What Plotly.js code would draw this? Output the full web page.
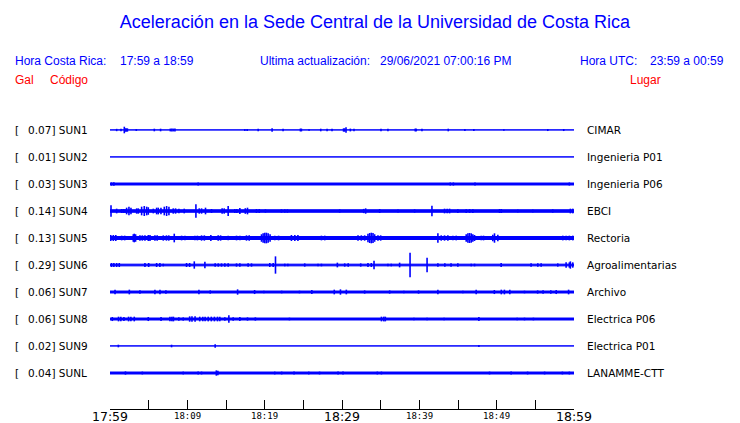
<!DOCTYPE html>
<html>
<head>
<meta charset="utf-8">
<script src="https://cdn.plot.ly/plotly-3.0.1.min.js"></script>
<style>html,body{margin:0;padding:0;background:#fff;}#chart{width:740px;height:423px;}</style>
</head>
<body>
<div id="chart"></div>
<script>
// ---- data ----
var stations = ['SUN1','SUN2','SUN3','SUN4','SUN5','SUN6','SUN7','SUN8','SUN9','SUNL'];
var peakGal = ['0.07','0.01','0.03','0.14','0.13','0.29','0.06','0.06','0.02','0.04'];
var places = ['CIMAR','Ingenieria P01','Ingenieria P06','EBCI','Rectoria','Agroalimentarias','Archivo','Electrica P06','Electrica P01','LANAMME-CTT'];
// background noise half-amplitude (Gal)
var noiseGal = [0.002,0.002,0.021,0.027,0.032,0.018,0.021,0.021,0.002,0.021];

// minutes after 17:59 and half-amplitude (Gal) of visible bursts / spikes
var sun1T = [0.86,1.42,1.85,1.95,2.1,2.25,3.4,5.73,6.54,7.8,8.0,8.2,8.4,17.43,17.74,19.16,20.96,22.38,24.62,24.75,25.74,27.25,28.07,28.71,30.2,30.35,30.52,31.08,31.55,35.04,35.94,39.47,39.6,40.34,43.74,45.89,47.05,50.93,56.61,58.67];
var sun1A = [0.025,0.025,0.07,0.036,0.036,0.036,0.02,0.028,0.028,0.03,0.03,0.03,0.03,0.02,0.02,0.025,0.036,0.025,0.03,0.03,0.015,0.028,0.025,0.025,0.036,0.036,0.06,0.03,0.025,0.025,0.025,0.03,0.03,0.025,0.028,0.022,0.022,0.015,0.022,0.022];
var sun2T = [];
var sun2A = [];
var sun3T = [0.2,0.5,11.4,44.0,44.4,47.2,59.4];
var sun3A = [0.035,0.035,0.033,0.033,0.033,0.033,0.033];
var sun4T = [0.13,0.86,1.5,1.72,1.94,2.15,2.45,2.71,3.45,3.66,4.09,4.43,4.74,4.95,5.6,6.03,6.24,6.59,7.02,7.32,7.62,8.18,8.48,8.91,9.6,11.11,11.54,11.84,12.35,13.13,14.5,14.77,15.28,16.14,16.4,16.79,17.5,17.78,18.94,19.3,20.1,22.17,22.6,22.94,29.7,32.8,33.06,34.87,37.24,39.39,41.63,43.26,43.6,43.91,44.98,46.06,46.5,46.92,50.37,50.6,52.73,54.67,57.25,59.53,59.84];
var sun4A = [0.12,0.05,0.043,0.043,0.043,0.071,0.092,0.071,0.057,0.057,0.092,0.106,0.092,0.08,0.05,0.071,0.071,0.071,0.092,0.106,0.092,0.057,0.057,0.05,0.05,0.142,0.057,0.057,0.071,0.043,0.057,0.057,0.106,0.043,0.043,0.064,0.06,0.071,0.043,0.043,0.035,0.035,0.035,0.035,0.035,0.045,0.057,0.043,0.03,0.035,0.113,0.05,0.05,0.05,0.04,0.04,0.04,0.04,0.043,0.043,0.03,0.03,0.035,0.05,0.05];
var sun5T = [0.1,0.43,0.75,1.51,1.9,3.01,3.14,3.31,3.87,4.18,4.52,4.95,5.17,5.81,6.1,6.89,7.3,7.6,8.31,9.26,9.69,10.98,11.3,11.84,12.2,13.04,13.99,14.3,15.28,16.36,16.8,17.65,18.0,19.59,19.8,20.02,20.23,20.45,20.7,21.31,21.8,23.46,23.9,24.3,25.4,27.34,27.77,29.49,29.9,30.3,32.07,32.5,32.93,33.36,33.58,33.79,34.01,34.22,34.65,35.0,36.16,36.6,37.02,39.39,40.68,41.0,42.4,42.83,43.26,43.69,44.34,44.77,46.06,46.28,46.49,46.71,46.92,47.14,48.0,48.3,49.5,49.72,50.15,51.66,52.09,53.16,55.32,55.75,56.61,57.04,58.55,58.98,59.4,59.84];
var sun5A = [0.064,0.064,0.064,0.05,0.05,0.08,0.092,0.08,0.057,0.057,0.057,0.064,0.064,0.057,0.057,0.057,0.057,0.057,0.092,0.05,0.05,0.05,0.05,0.057,0.057,0.064,0.057,0.057,0.05,0.05,0.05,0.057,0.057,0.08,0.1,0.113,0.113,0.1,0.08,0.05,0.05,0.064,0.064,0.064,0.043,0.05,0.05,0.043,0.043,0.043,0.057,0.057,0.057,0.09,0.106,0.113,0.106,0.08,0.057,0.057,0.043,0.043,0.043,0.035,0.043,0.043,0.1,0.057,0.057,0.057,0.05,0.05,0.08,0.1,0.106,0.1,0.08,0.064,0.05,0.05,0.071,0.1,0.071,0.043,0.043,0.043,0.043,0.043,0.043,0.043,0.05,0.05,0.05,0.05];
var sun6T = [0.2,0.5,0.86,1.2,4.52,5.0,6.03,6.45,6.89,9.9,10.3,10.9,12.27,13.6,14.0,14.42,14.85,15.28,16.36,16.79,17.86,18.3,20.66,21.1,21.4,22.6,23.0,25.18,26.9,27.34,29.4,30.35,30.8,32.42,33.36,33.79,34.14,35.94,36.37,37.45,38.8,41.0,42.4,43.3,44.1,44.98,46.71,47.14,50.58,54.45,55.32,55.75,57.9,58.98,59.4,59.53,59.84];
var sun6A = [0.043,0.043,0.043,0.043,0.043,0.043,0.043,0.043,0.028,0.043,0.043,0.078,0.071,0.035,0.035,0.035,0.035,0.035,0.035,0.035,0.035,0.035,0.043,0.043,0.184,0.028,0.028,0.035,0.028,0.028,0.05,0.035,0.035,0.035,0.043,0.043,0.092,0.028,0.028,0.05,0.262,0.156,0.035,0.035,0.035,0.035,0.028,0.028,0.043,0.035,0.035,0.035,0.035,0.057,0.057,0.078,0.057];
var sun7T = [0.65,2.5,3.87,5.81,6.46,7.23,11.5,12.96,16.5,18.7,19.9,22.2,24.5,26.1,29.0,29.8,30.56,32.93,36.16,38.0,39.9,42.4,45.63,47.35,49.7,50.6,51.0,51.7,53.6,55.3,56.0,57.0,57.7,59.3];
var sun7A = [0.05,0.05,0.035,0.05,0.05,0.035,0.05,0.035,0.057,0.043,0.028,0.028,0.028,0.043,0.05,0.057,0.05,0.035,0.035,0.028,0.035,0.05,0.028,0.05,0.043,0.05,0.05,0.05,0.028,0.035,0.035,0.035,0.043,0.05];
var sun8T = [0.3,1.1,1.4,1.8,2.4,2.7,3.14,4.95,6.6,7.75,8.0,8.2,8.9,9.47,10.3,10.6,11.0,11.6,12.0,12.3,12.7,13.1,13.5,13.9,14.2,14.85,15.37,15.93,16.79,17.78,18.8,23.2,35.1,35.4,35.6,39.3,41.0,43.2,47.7,52.65,53.6,54.75];
var sun8A = [0.043,0.05,0.05,0.043,0.05,0.05,0.05,0.043,0.043,0.05,0.05,0.05,0.035,0.035,0.057,0.057,0.057,0.05,0.05,0.05,0.05,0.05,0.05,0.05,0.05,0.035,0.078,0.035,0.043,0.035,0.035,0.028,0.05,0.05,0.05,0.028,0.028,0.028,0.043,0.028,0.028,0.028];
var sun9T = [1.08,7.96,13.6,47.7];
var sun9A = [0.028,0.028,0.035,0.02];
var sunLT = [2.0,4.18,9.47,11.4,11.84,13.75,13.95,21.3,22.2,23.8,25.7,27.1,29.49,30.13,34.57,35.1,49.08,51.87,54.0,56.2,58.5,59.4];
var sunLA = [0.035,0.03,0.03,0.03,0.03,0.057,0.05,0.03,0.03,0.03,0.03,0.03,0.03,0.03,0.03,0.03,0.03,0.03,0.03,0.03,0.03,0.03];

var tickMinutes = [0,5,10,15,20,25,30,35,40,45,50,55,60];
var labelMinutes = [0,10,20,30,40,50,60];
var tickLabels  = ['17:59','18:09','18:19','18:29','18:39','18:49','18:59'];

// ---- drawing ----
var eventT = [sun1T,sun2T,sun3T,sun4T,sun5T,sun6T,sun7T,sun8T,sun9T,sunLT];
var eventA = [sun1A,sun2A,sun3A,sun4A,sun5A,sun6A,sun7A,sun8A,sun9A,sunLA];
var ROW = 0.5745;   // vertical spacing between stations (Gal)
var BLUE = '#0000ff';
var traces = [];
var annotations = [];
function px(xp){ return (xp - 110) / 464.3; }
function py(yp){ return (409 - yp) / 306; }
function ann(o){ o.showarrow = false; o.borderpad = 0; o.borderwidth = 0; annotations.push(o); }

for (var i = 0; i < stations.length; i++) {
  var off = -i * ROW;
  var b = noiseGal[i];
  traces.push({type:'scatter', mode:'lines', x:[0,60,60,0,0], y:[off+b,off+b,off-b,off-b,off+b],
    fill:'toself', fillcolor:BLUE, line:{color:BLUE, width:1}, hoverinfo:'skip'});
  var xs = [], ys = [];
  var n = Math.min(eventT[i].length, eventA[i].length);
  for (var k = 0; k < n; k++) {
    xs.push(eventT[i][k], eventT[i][k], null);
    ys.push(off - eventA[i][k], off + eventA[i][k], null);
  }
  if (n) traces.push({type:'scatter', mode:'lines', x:xs, y:ys, line:{color:BLUE, width:1.6}, hoverinfo:'skip'});
  ann({xref:'paper', yref:'y', x:px(15), y:off, xanchor:'left', yanchor:'middle',
    text:'[', font:{family:'DejaVu Sans', size:10.5, color:'#000'}});
  ann({xref:'paper', yref:'y', x:px(27.7), y:off, xanchor:'left', yanchor:'middle',
    text:peakGal[i] + '] ' + stations[i], font:{family:'DejaVu Sans', size:10.5, color:'#000'}});
  ann({xref:'paper', yref:'y', x:px(587), y:off, xanchor:'left', yanchor:'middle',
    text:places[i], font:{family:'DejaVu Sans', size:10.5, color:'#000'}});
}

function hdr(x, y, txt, color) {
  ann({xref:'paper', yref:'paper', x:px(x), y:py(y), xanchor:'left', yanchor:'middle',
    text:txt, font:{family:'Liberation Sans, Arial', size:12, color:color}});
}
hdr(15, 61, 'Hora Costa Rica:', BLUE);
hdr(120, 61, '17:59 a 18:59', BLUE);
hdr(260, 61, 'Ultima actualización:', BLUE);
hdr(380, 61, '29/06/2021 07:00:16 PM', BLUE);
hdr(580, 61, 'Hora UTC:', BLUE);
hdr(650, 61, '23:59 a 00:59', BLUE);
hdr(15, 80, 'Gal', '#ff0000');
hdr(50, 80, 'Código', '#ff0000');
hdr(630, 80, 'Lugar', '#ff0000');

// time labels under the axis (big at ends/middle, small otherwise)
for (var j = 0; j < labelMinutes.length; j++) {
  var big = (j % 3 === 0);
  ann({xref:'x', yref:'paper', x:labelMinutes[j], y:py(big ? 416.3 : 415.8), xanchor:'center', yanchor:'middle',
    text:tickLabels[j],
    font: big ? {family:'DejaVu Sans', size:12.5, color:'#000'} : {family:'DejaVu Sans Mono', size:9, color:'#000'}});
}

var layout = {
  width:740, height:423,
  margin:{l:110, r:165.7, t:103, b:14, pad:0},
  paper_bgcolor:'#fff', plot_bgcolor:'#fff',
  showlegend:false,
  title:{text:'Aceleración en la Sede Central de la Universidad de Costa Rica',
    font:{family:'Liberation Sans, Arial', size:18, color:BLUE},
    x:375/740, xanchor:'center', xref:'container', y:1 - 22/423, yanchor:'middle', yref:'container'},
  xaxis:{range:[0,60], fixedrange:true, showgrid:false, zeroline:false,
    showline:true, linecolor:'#000', linewidth:1.3,
    ticks:'inside', ticklen:9, tickwidth:1, tickcolor:'#000',
    tickmode:'array', tickvals:tickMinutes, showticklabels:false},
  yaxis:{range:[-5.936, 0.5745], fixedrange:true, visible:false, showgrid:false, zeroline:false},
  annotations:annotations
};
Plotly.newPlot('chart', traces, layout, {staticPlot:true, displayModeBar:false});
</script>
</body>
</html>
